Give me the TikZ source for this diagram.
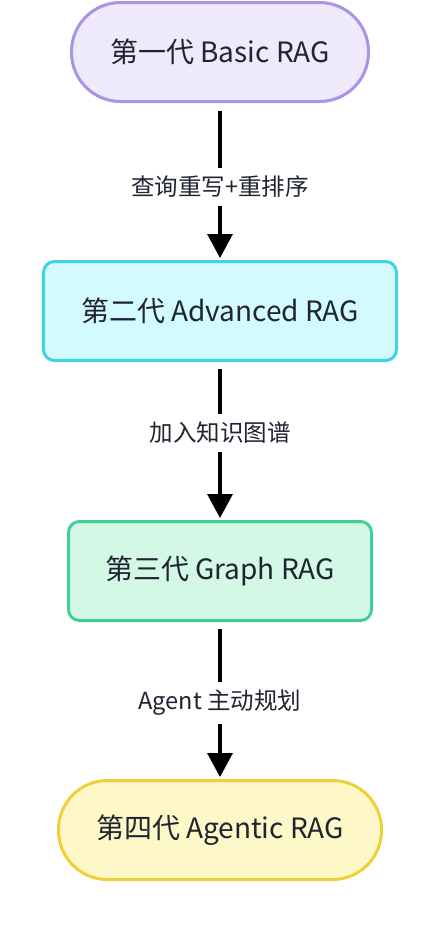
\documentclass[tikz,border=0pt]{standalone}
\usepackage{fontspec}
\setmainfont{Noto Sans CJK SC}
\usetikzlibrary{arrows.meta}
\definecolor{violetfill}{HTML}{EEEAFC}
\definecolor{violetline}{HTML}{A893E6}
\definecolor{cyanfill}{HTML}{D3FAFE}
\definecolor{cyanline}{HTML}{3DD3E8}
\definecolor{greenfill}{HTML}{D3F8E6}
\definecolor{greenline}{HTML}{44CD98}
\definecolor{yellowfill}{HTML}{FEF8C8}
\definecolor{yellowline}{HTML}{EFCF3A}
\definecolor{textdark}{HTML}{1F2430}
\begin{document}
\begin{tikzpicture}[x=1pt,y=-1pt,line width=3pt,>={Triangle[width=25pt,length=24pt]},
		gen/.style={draw,minimum height=99pt,text=textdark,font=\fontsize{28}{32}\selectfont,inner sep=0pt},
		pill/.style={gen,rounded corners=49pt},
		boxed/.style={gen,rounded corners=11pt},
		step label/.style={fill=white,inner xsep=2pt,inner ysep=7pt,text=textdark,font=\fontsize{23.5}{27}\selectfont},
		flow/.style={line width=3.4pt,black}]
	\useasboundingbox (0,0) rectangle (443,926);
	% the four generations
	\node[pill,fill=violetfill,draw=violetline,minimum width=297pt] (basic) at (220,52) {第一代 Basic RAG};
	\node[boxed,fill=cyanfill,draw=cyanline,minimum width=353pt] (advanced) at (220,311) {第二代 Advanced RAG};
	\node[boxed,fill=greenfill,draw=greenline,minimum width=303pt] (graph) at (220,571) {第三代 Graph RAG};
	\node[pill,fill=yellowfill,draw=yellowline,minimum width=323pt] (agentic) at (220,830) {第四代 Agentic RAG};
	% step labels
	\node[step label] (rewrite) at (220,187) {查询重写+重排序};
	\node[step label] (kg) at (220,433) {加入知识图谱};
	\node[step label] (plan) at (220,703) {Agent 主动规划};
	% connectors
	\draw[flow,shorten <=8pt] (basic) -- (rewrite);
	\draw[flow,->,shorten >=2pt] (rewrite) -- (advanced);
	\draw[flow,shorten <=7pt] (advanced) -- (kg);
	\draw[flow,->,shorten >=2pt] (kg) -- (graph);
	\draw[flow,shorten <=7pt] (graph) -- (plan);
	\draw[flow,->,shorten >=2pt] (plan) -- (agentic);
\end{tikzpicture}
\end{document}
